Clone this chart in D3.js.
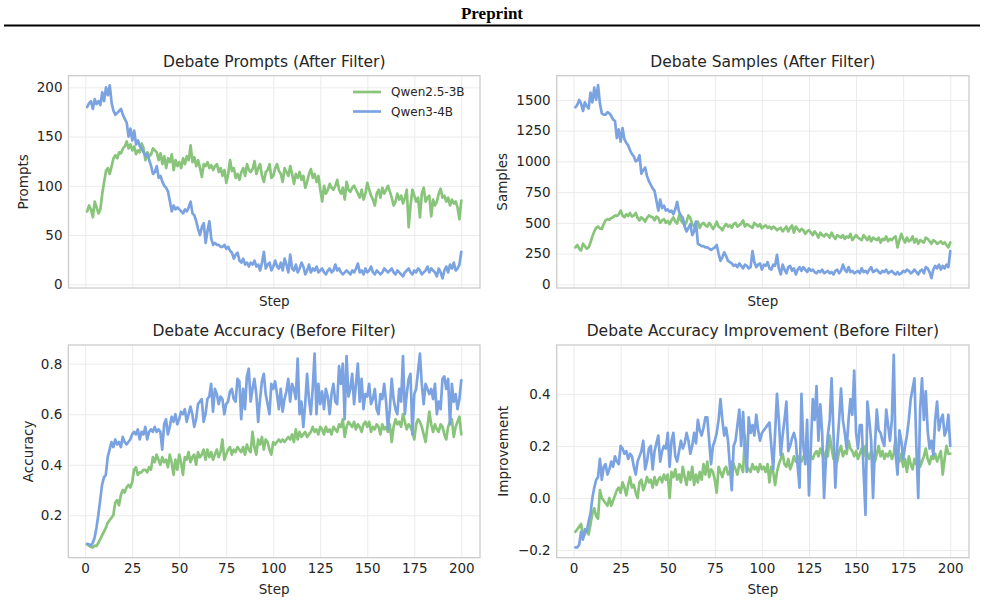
<!DOCTYPE html>
<html>
<head>
<meta charset="utf-8">
<script src="https://cdn.jsdelivr.net/npm/d3@7"></script>
<style>
  body { margin: 0; background: #fff; }
  svg { display: block; font-family: "DejaVu Sans", sans-serif; }
</style>
</head>
<body>
<div id="chart"></div>
<script>
// series names + colours
var seriesNames = ["Qwen2.5-3B", "Qwen3-4B"];
var seriesColors = ["#88c47a", "#7ba3e2"];

var steps = d3.range(1, 201);
var xTicks = [0, 25, 50, 75, 100, 125, 150, 175, 200];

// Debate Prompts (After Filter)
var promptsQwen25 = [
  74, 80, 76, 68, 84, 78, 72, 76, 92, 104,
  115, 118, 112, 120, 128, 131, 128, 134, 133, 138,
  140, 145, 138, 142, 136, 140, 132, 136, 134, 143,
  138, 126, 134, 130, 132, 138, 136, 134, 126, 133,
  122, 130, 118, 128, 124, 132, 116, 126, 120, 124,
  118, 128, 122, 130, 126, 141, 124, 129, 120, 126,
  118, 109, 122, 120, 124, 118, 121, 116, 120, 122,
  114, 118, 110, 116, 103, 112, 126, 115, 118, 108,
  112, 106, 114, 118, 110, 122, 116, 114, 117, 125,
  112, 118, 122, 110, 104, 114, 116, 122, 108, 110,
  118, 122, 115, 112, 104, 118, 114, 110, 120, 112,
  102, 112, 108, 114, 106, 110, 98, 104, 112, 117,
  108, 112, 104, 110, 96, 84, 100, 92, 96, 102,
  98, 96, 100, 106, 96, 92, 98, 86, 104, 96,
  94, 98, 100, 96, 92, 88, 96, 86, 92, 103,
  96, 90, 86, 80, 92, 96, 88, 98, 92, 96,
  100, 94, 88, 80, 84, 92, 86, 90, 82, 88,
  96, 58, 80, 96, 90, 84, 88, 68, 92, 98,
  84, 88, 90, 69, 86, 80, 84, 92, 97, 88,
  90, 84, 88, 80, 86, 82, 84, 78, 66, 85
];
var promptsQwen3 = [
  180, 184, 186, 178, 188, 183, 186, 182, 195, 186,
  200, 192, 202, 184, 176, 172, 174, 176, 178, 172,
  168, 164, 150, 158, 146, 156, 142, 146, 140, 138,
  134, 130, 132, 126, 120, 112, 114, 120, 108, 110,
  104, 100, 98, 94, 84, 74, 80, 76, 78, 76,
  74, 72, 76, 74, 78, 84, 72, 70, 64, 56,
  50, 58, 62, 42, 54, 64, 46, 40, 42, 40,
  40, 38, 38, 40, 36, 38, 34, 32, 26, 30,
  32, 24, 22, 26, 20, 22, 18, 22, 20, 24,
  18, 20, 14, 22, 33, 16, 20, 22, 14, 18,
  24, 18, 16, 22, 14, 26, 20, 12, 30, 16,
  14, 20, 12, 16, 22, 18, 10, 14, 20, 12,
  16, 14, 18, 12, 14, 16, 12, 10, 14, 16,
  12, 14, 20, 14, 16, 12, 10, 12, 14, 12,
  10, 14, 12, 16, 21, 12, 14, 10, 16, 12,
  14, 18, 12, 10, 14, 12, 10, 12, 16, 14,
  12, 14, 16, 12, 10, 14, 12, 10, 8, 12,
  14, 16, 12, 10, 14, 12, 16, 14, 10, 12,
  14, 18, 12, 16, 14, 12, 8, 16, 12, 6,
  14, 18, 12, 20, 16, 22, 14, 16, 20, 33
];

// Debate Samples (After Filter)
var samplesQwen25 = [
  300, 320, 290, 275, 330, 310, 290, 300, 340, 390,
  430, 460, 470, 455, 450, 490, 520, 530, 525, 540,
  545, 560, 555, 570, 600, 560, 545, 570, 555, 580,
  550, 560, 580, 540, 520, 545, 530, 510, 540, 560,
  550, 545, 520, 550, 540, 500, 520, 530, 500, 515,
  490, 520, 545, 510, 495, 560, 520, 500, 480, 510,
  560, 540, 490, 470, 500, 510, 460, 490, 500, 480,
  470, 500, 480, 450, 470, 510, 470, 460, 440, 470,
  490, 470, 480, 460, 490, 500, 470, 480, 495, 520,
  470, 490, 480, 470, 460, 500, 485, 470, 490, 455,
  470, 480, 460, 470, 450, 470, 460, 440, 450, 460,
  430, 450, 470, 430, 460, 480, 420, 470, 450, 430,
  450, 440, 410, 430, 440, 420, 400, 430, 410, 380,
  420, 400, 390, 410, 400, 380, 420, 390, 370, 400,
  390, 380, 400, 370, 390, 380, 410, 360, 380, 400,
  380, 370, 360, 400, 380, 360, 390, 350, 380, 370,
  360, 380, 340, 370, 360, 390, 350, 370, 360, 380,
  390, 300, 360, 410, 370, 340, 380, 350, 360, 390,
  340, 370, 330, 360, 350, 340, 380, 370, 350, 330,
  360, 350, 330, 340, 350, 330, 340, 320, 300, 340
];
var samplesQwen3 = [
  1440, 1460, 1500, 1470, 1410, 1480, 1450, 1430, 1560, 1480,
  1600, 1500, 1620, 1470, 1390, 1380, 1380, 1400, 1390, 1370,
  1340, 1330, 1190, 1260, 1160, 1270, 1180, 1150, 1130, 1090,
  1060, 1040, 1000, 1010, 1050, 900, 930, 950, 880, 840,
  810, 780, 760, 680, 600, 690, 620, 640, 600, 610,
  590, 600, 570, 610, 670, 590, 560, 540, 470, 430,
  460, 490, 400, 430, 510, 330, 320, 310, 310, 300,
  300, 290, 280, 290, 300, 320, 250, 190, 220, 260,
  230, 190, 180, 170, 150, 160, 140, 170, 150, 130,
  160, 150, 130, 140, 270, 180, 140, 160, 170, 120,
  160, 150, 180, 130, 120, 160, 150, 240, 130, 80,
  160, 120, 90, 140, 150, 110, 130, 80, 120, 140,
  110, 140, 120, 100, 130, 110, 120, 100, 90, 110,
  100, 120, 90, 100, 110, 90, 100, 80, 110, 120,
  90, 110, 160, 120, 100, 140, 100, 110, 90, 100,
  110, 90, 130, 100, 110, 90, 120, 140, 100, 110,
  120, 100, 90, 110, 100, 120, 90, 100, 110, 90,
  80, 100, 80, 90, 110, 100, 120, 110, 90, 100,
  120, 100, 80, 110, 120, 90, 140, 130, 100, 50,
  120, 150, 130, 160, 120, 150, 130, 160, 140, 270
];

// Debate Accuracy (Before Filter)
var accQwen25 = [
  0.085, 0.08, 0.075, 0.072, 0.08, 0.078, 0.09, 0.105, 0.12, 0.135,
  0.15, 0.17, 0.18, 0.19, 0.2, 0.25, 0.26, 0.24, 0.28, 0.3,
  0.29, 0.31, 0.32, 0.31, 0.33, 0.38, 0.39, 0.36, 0.37, 0.37,
  0.38, 0.38, 0.37, 0.39, 0.38, 0.43, 0.41, 0.44, 0.42, 0.4,
  0.43, 0.41, 0.42, 0.39, 0.44, 0.41, 0.36, 0.42, 0.38, 0.44,
  0.41, 0.36, 0.43, 0.42, 0.45, 0.41, 0.43, 0.44, 0.4, 0.45,
  0.43, 0.44, 0.46, 0.42, 0.46, 0.43, 0.45, 0.42, 0.44, 0.46,
  0.43, 0.45, 0.5, 0.42, 0.44, 0.46, 0.47, 0.44, 0.46, 0.45,
  0.47, 0.46, 0.45, 0.47, 0.44, 0.48, 0.46, 0.45, 0.53, 0.47,
  0.44, 0.5, 0.48, 0.51, 0.46, 0.5, 0.49, 0.46, 0.44, 0.49,
  0.48, 0.49, 0.5, 0.49, 0.5, 0.49, 0.5, 0.51, 0.5, 0.52,
  0.49, 0.54, 0.5, 0.53, 0.51, 0.52, 0.53, 0.51, 0.52, 0.53,
  0.55, 0.53, 0.54, 0.52, 0.55, 0.54, 0.52, 0.55, 0.53, 0.54,
  0.52, 0.55, 0.54, 0.53, 0.56, 0.55, 0.58, 0.51, 0.55, 0.57,
  0.56, 0.55, 0.57, 0.54, 0.56, 0.55, 0.53, 0.56, 0.57, 0.55,
  0.57, 0.53, 0.55, 0.54, 0.56, 0.55, 0.52, 0.56, 0.54, 0.55,
  0.53, 0.56, 0.49, 0.55, 0.58, 0.56, 0.57, 0.55, 0.6, 0.57,
  0.54, 0.56, 0.55, 0.53, 0.5, 0.56, 0.58, 0.57, 0.55, 0.52,
  0.49, 0.55, 0.61, 0.56, 0.53, 0.56, 0.54, 0.53, 0.56, 0.55,
  0.52, 0.5, 0.55, 0.57, 0.58, 0.51, 0.55, 0.57, 0.59, 0.52
];
var accQwen3 = [
  0.087, 0.085, 0.08, 0.09, 0.11, 0.15, 0.2, 0.26, 0.32, 0.35,
  0.36, 0.43, 0.46, 0.49, 0.47, 0.5, 0.48, 0.49, 0.47, 0.51,
  0.49, 0.48, 0.49, 0.5, 0.52, 0.53, 0.52, 0.54, 0.5, 0.53,
  0.52, 0.55, 0.5, 0.53, 0.54, 0.53, 0.55, 0.53, 0.54, 0.53,
  0.46, 0.56, 0.58, 0.52, 0.55, 0.59, 0.57, 0.6, 0.56, 0.58,
  0.61, 0.6, 0.62, 0.57, 0.6, 0.63, 0.6, 0.55, 0.58, 0.64,
  0.65, 0.66, 0.57, 0.6, 0.66, 0.67, 0.72, 0.61, 0.7, 0.68,
  0.64, 0.67, 0.66, 0.6, 0.64, 0.65, 0.69, 0.7, 0.66, 0.65,
  0.74, 0.73, 0.58, 0.7, 0.62, 0.75, 0.78, 0.65, 0.7, 0.74,
  0.68, 0.57, 0.66, 0.73, 0.76, 0.68, 0.64, 0.6, 0.72, 0.7,
  0.73, 0.68, 0.62, 0.7, 0.61, 0.66, 0.69, 0.74, 0.65, 0.72,
  0.7, 0.66, 0.82, 0.6, 0.65, 0.55, 0.64, 0.76, 0.66, 0.6,
  0.7, 0.84, 0.6, 0.72, 0.64, 0.69, 0.62, 0.7, 0.67, 0.6,
  0.68, 0.72, 0.65, 0.64, 0.79, 0.72, 0.8, 0.58, 0.83, 0.67,
  0.7, 0.76, 0.64, 0.72, 0.8, 0.65, 0.74, 0.62, 0.68, 0.67,
  0.72, 0.64, 0.66, 0.7, 0.62, 0.6, 0.68, 0.66, 0.72, 0.65,
  0.54, 0.62, 0.74, 0.66, 0.62, 0.6, 0.7, 0.65, 0.83, 0.6,
  0.68, 0.74, 0.76, 0.52, 0.68, 0.7, 0.77, 0.84, 0.72, 0.64,
  0.72, 0.7, 0.68, 0.7, 0.66, 0.72, 0.6, 0.65, 0.62, 0.74,
  0.75, 0.7, 0.74, 0.56, 0.72, 0.65, 0.68, 0.62, 0.66, 0.735
];

// Debate Accuracy Improvement (Before Filter)
var impQwen25 = [
  -0.13, -0.12, -0.11, -0.1, -0.15, -0.14, -0.12, -0.14, -0.1, -0.06,
  -0.04, -0.07, -0.08, 0.03, 0.0, -0.01, -0.02, -0.03, 0.0, -0.03,
  -0.01, 0.01, 0.03, 0.04, 0.02, 0.06, 0.04, 0.01, 0.05, 0.08,
  0.04, 0.05, 0.02, 0.0, 0.06, 0.07, 0.03, 0.05, 0.08, 0.06,
  0.07, 0.04, 0.08, 0.05, 0.07, 0.08, 0.06, 0.09, 0.07, 0.09,
  0.0, 0.1, 0.08, 0.11, 0.07, 0.09, 0.06, 0.12, 0.08, 0.05,
  0.1, 0.07, 0.12, 0.05, 0.09, 0.06, 0.1, 0.07, 0.13, 0.09,
  0.14, 0.08, 0.11, 0.1, 0.07, 0.02, 0.12, 0.1, 0.08, 0.11,
  0.12, 0.09, 0.1, 0.14, 0.13, 0.11, 0.09, 0.13, 0.12, 0.1,
  0.24, 0.12, 0.11, 0.1, 0.13, 0.11, 0.12, 0.1, 0.13, 0.11,
  0.12, 0.1, 0.13, 0.06, 0.12, 0.1, 0.05, 0.1, 0.13, 0.15,
  0.17, 0.13, 0.12, 0.15, 0.11, 0.13, 0.16, 0.14, 0.16, 0.15,
  0.14, 0.16, 0.15, 0.17, 0.14, 0.16, 0.15, 0.17, 0.18, 0.16,
  0.19, 0.17, 0.15, 0.18, 0.16, 0.24, 0.19, 0.15, 0.17, 0.14,
  0.18, 0.2, 0.16, 0.18, 0.17, 0.22, 0.19, 0.18, 0.16, 0.18,
  0.15, 0.17, 0.19, 0.16, 0.2, 0.17, 0.15, 0.18, 0.16, 0.14,
  0.17, 0.2, 0.16, 0.18, 0.15, 0.17, 0.16, 0.18, 0.15, 0.17,
  0.23, 0.16, 0.14, 0.17, 0.12, 0.15, 0.1, 0.16, 0.13, 0.11,
  0.15, 0.13, 0.17, 0.12, 0.14, 0.16, 0.19, 0.15, 0.13, 0.16,
  0.15, 0.17, 0.14, 0.16, 0.18, 0.09, 0.15, 0.2, 0.17, 0.17
];
var impQwen3 = [
  -0.19, -0.19, -0.18, -0.13, -0.16, -0.12, -0.13, -0.09, -0.06, 0.0,
  0.04, 0.07, 0.08, 0.15, 0.07, 0.12, 0.13, 0.09, 0.11, 0.14,
  0.12, 0.16, 0.14, 0.13, 0.2, 0.19, 0.17, 0.18, 0.15, 0.17,
  0.16, 0.12, 0.09, 0.14, 0.16, 0.18, 0.22, 0.11, 0.14, 0.19,
  0.2, 0.11, 0.18, 0.21, 0.24, 0.14, 0.18, 0.2, 0.19, 0.25,
  0.12, 0.22, 0.25, 0.16, 0.14, 0.18, 0.22, 0.19, 0.21, 0.25,
  0.22, 0.17, 0.2, 0.25, 0.21, 0.3, 0.26, 0.24, 0.27, 0.31,
  0.31, 0.22, 0.13, 0.2, 0.22, 0.25, 0.3, 0.38, 0.3, 0.24,
  0.27, 0.22, 0.12, 0.03, 0.2, 0.22, 0.28, 0.34, 0.2, 0.33,
  0.2, 0.1, 0.31, 0.25, 0.28, 0.24, 0.32, 0.26, 0.22, 0.25,
  0.26, 0.27, 0.28, 0.29, 0.2, 0.11, 0.25, 0.4, 0.3, 0.165,
  0.24, 0.3, 0.37, 0.18, 0.2, 0.23, 0.25, 0.22, 0.12, 0.04,
  0.4, 0.2, 0.13, 0.3, 0.01, 0.2, 0.38, 0.3, 0.43, 0.22,
  0.36, 0.25, 0.0, 0.15, 0.24, 0.3, 0.46, 0.25, 0.04, 0.2,
  0.3, 0.42, 0.3, 0.25, 0.19, 0.3, 0.38, 0.32, 0.49, 0.25,
  0.19, 0.28, 0.28, 0.1, -0.065, 0.37, 0.3, 0.22, 0.0, 0.2,
  0.34, 0.26, 0.25, 0.22, 0.2, 0.34, 0.28, 0.22, 0.3, 0.55,
  0.17, 0.09, 0.26, 0.22, 0.15, 0.2, 0.24, 0.3, 0.38, 0.42,
  0.46, 0.2, 0.0, 0.34, 0.46, 0.3, 0.41, 0.26, 0.19, 0.22,
  0.165, 0.3, 0.37, 0.26, 0.3, 0.32, 0.24, 0.26, 0.32, 0.2
];

var width = 985, height = 603;
var textColor = "#262626";
var gridColor = "#ebebeb";
var frameColor = "#cccccc";

var svg = d3.select("#chart").append("svg")
    .attr("width", width)
    .attr("height", height);

// page header
svg.append("text")
    .attr("x", 492)
    .attr("y", 19)
    .attr("text-anchor", "middle")
    .style("font-family", "'Liberation Serif', 'Times New Roman', serif")
    .style("font-weight", "bold")
    .style("font-size", "17px")
    .attr("fill", "#000")
    .text("Preprint");

svg.append("line")
    .attr("x1", 4).attr("x2", 980)
    .attr("y1", 25.5).attr("y2", 25.5)
    .attr("stroke", "#000")
    .attr("stroke-width", 2);

var panels = [
    { title: "Debate Prompts (After Filter)", ylabel: "Prompts", series: [promptsQwen25, promptsQwen3],
      yDomain: [-3.8, 211.8], yTicks: [0, 50, 100, 150, 200], yFmt: d3.format("d"),
      box: { x0: 68.5, x1: 480, y0: 75.7, y1: 288 }, labelOff: 45.5, xLabels: false, legend: true },
    { title: "Debate Samples (After Filter)", ylabel: "Samples", series: [samplesQwen25, samplesQwen3],
      yDomain: [-30, 1697], yTicks: [0, 250, 500, 750, 1000, 1250, 1500], yFmt: d3.format("d"),
      box: { x0: 556.7, x1: 969, y0: 75.7, y1: 288 }, labelOff: 54.5, xLabels: false, legend: false },
    { title: "Debate Accuracy (Before Filter)", ylabel: "Accuracy", series: [accQwen25, accQwen3],
      yDomain: [0.032, 0.874], yTicks: [0.2, 0.4, 0.6, 0.8], yFmt: d3.format(".1f"),
      box: { x0: 68.3, x1: 480, y0: 345, y1: 557.7 }, labelOff: 40.5, xLabels: true, legend: false },
    { title: "Debate Accuracy Improvement (Before Filter)", ylabel: "Improvement", series: [impQwen25, impQwen3],
      yDomain: [-0.2296, 0.588], yTicks: [-0.2, 0, 0.2, 0.4], yFmt: d3.format(".1f"),
      box: { x0: 556.7, x1: 969, y0: 345, y1: 557.7 }, labelOff: 53.5, xLabels: true, legend: false }
];

panels.forEach(function(p) {
    var b = p.box;
    var w = b.x1 - b.x0, h = b.y1 - b.y0;

    var x = d3.scaleLinear().domain([-8.95, 209.95]).range([b.x0, b.x1]);
    var y = d3.scaleLinear().domain(p.yDomain).range([b.y1, b.y0]);

    // x grid + tick labels
    var xAxis = d3.axisBottom(x)
        .tickValues(xTicks)
        .tickSize(-h)
        .tickPadding(6)
        .tickFormat(p.xLabels ? d3.format("d") : "");
    var gx = svg.append("g")
        .attr("transform", "translate(0," + b.y1 + ")")
        .call(xAxis);

    var yAxis = d3.axisLeft(y)
        .tickValues(p.yTicks)
        .tickSize(-w)
        .tickPadding(6)
        .tickFormat(p.yFmt);
    var gy = svg.append("g")
        .attr("transform", "translate(" + b.x0 + ",0)")
        .call(yAxis);

    [gx, gy].forEach(function(g) {
        g.select(".domain").remove();
        g.selectAll(".tick line").attr("stroke", gridColor).attr("stroke-width", 1);
        g.selectAll(".tick text")
            .attr("fill", textColor)
            .style("font-size", "13.5px")
            .style("font-family", "'DejaVu Sans', sans-serif");
    });

    // frame
    svg.append("rect")
        .attr("x", b.x0).attr("y", b.y0)
        .attr("width", w).attr("height", h)
        .attr("fill", "none")
        .attr("stroke", frameColor)
        .attr("stroke-width", 1.3);

    // lines
    var line = d3.line()
        .x(function(d, i) { return x(steps[i]); })
        .y(function(d) { return y(d); });

    p.series.forEach(function(s, k) {
        svg.append("path")
            .datum(s)
            .attr("d", line)
            .attr("fill", "none")
            .attr("stroke", seriesColors[k])
            .attr("stroke-width", 2.7)
            .attr("stroke-linejoin", "round")
            .attr("stroke-linecap", "round");
    });

    // title
    svg.append("text")
        .attr("x", (b.x0 + b.x1) / 2)
        .attr("y", b.y0 - 9)
        .attr("text-anchor", "middle")
        .attr("fill", textColor)
        .style("font-size", "15.5px")
        .text(p.title);

    // x label
    svg.append("text")
        .attr("x", (b.x0 + b.x1) / 2)
        .attr("y", p.xLabels ? b.y1 + 36 : b.y1 + 18)
        .attr("text-anchor", "middle")
        .attr("fill", textColor)
        .style("font-size", "13.5px")
        .text("Step");

    // y label
    svg.append("text")
        .attr("transform", "translate(" + (b.x0 - p.labelOff) + "," + ((b.y0 + b.y1) / 2) + ") rotate(-90)")
        .attr("dy", "0.35em")
        .attr("text-anchor", "middle")
        .attr("fill", textColor)
        .style("font-size", "13.5px")
        .text(p.ylabel);

    if (p.legend) {
        var lg = svg.append("g");
        seriesNames.forEach(function(name, k) {
            var ly = 92 + k * 19.5;
            lg.append("line")
                .attr("x1", 353).attr("x2", 381)
                .attr("y1", ly).attr("y2", ly)
                .attr("stroke", seriesColors[k])
                .attr("stroke-width", 2.7);
            lg.append("text")
                .attr("x", 391).attr("y", ly)
                .attr("dy", "0.35em")
                .attr("fill", textColor)
                .style("font-size", "12px")
                .text(name);
        });
    }
});
</script>
</body>
</html>
